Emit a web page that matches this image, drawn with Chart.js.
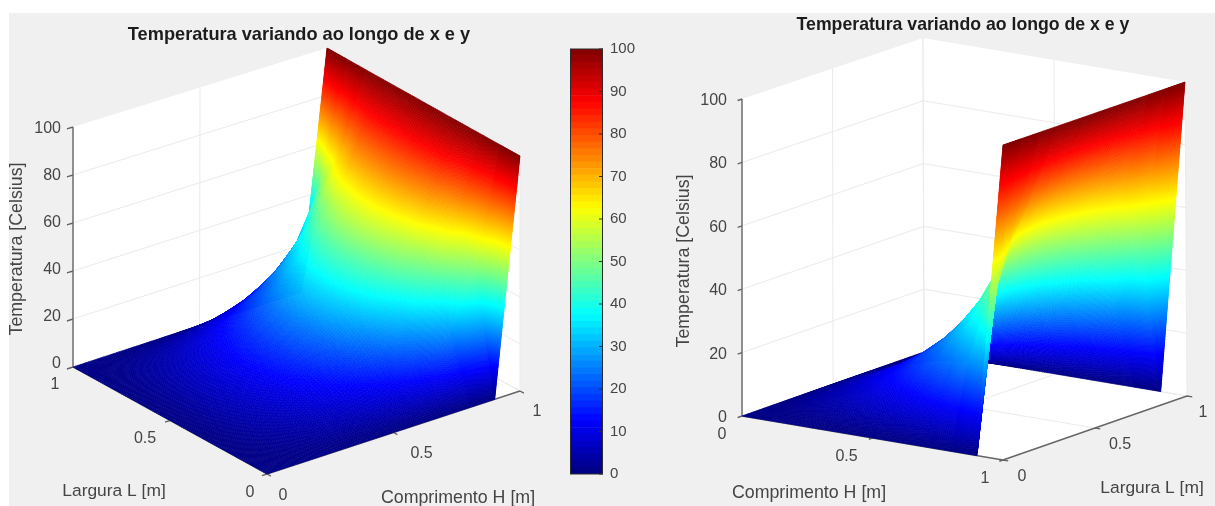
<!DOCTYPE html>
<html>
<head>
<meta charset="utf-8">
<title>Temperatura variando ao longo de x e y</title>
<script src="https://cdn.jsdelivr.net/npm/chart.js@4/dist/chart.umd.js"></script>
<style>
  html, body { margin: 0; padding: 0; background: #fff; overflow: hidden; width: 1215px; height: 506px; }
  #panel { position: absolute; left: 9px; top: 13px; width: 1206px; height: 493px; background: #f0f0f0; }
  canvas { position: absolute; display: block; filter: blur(0.6px); }
</style>
</head>
<body>
<div id="panel"></div>
<canvas id="leftChart" width="598" height="506" style="left:0;top:0"></canvas>
<canvas id="rightChart" width="606" height="506" style="left:660px;top:0"></canvas>
<canvas id="colorbar" width="90" height="457" style="left:570px;top:33px"></canvas>
<script>
const titleText = "Temperatura variando ao longo de x e y";
const zLabel = "Temperatura [Celsius]";
const hLabel = "Comprimento H [m]";
const lLabel = "Largura L [m]";

const hValues = [0, 0.1, 0.2, 0.3, 0.4, 0.5, 0.6, 0.7, 0.8, 0.9, 1];
const lValues = [0, 0.1, 0.2, 0.3, 0.4, 0.5, 0.6, 0.7, 0.8, 0.9, 1];
const zTicks = [0, 20, 40, 60, 80, 100];
const planTicks = [0, 0.5, 1];

// one row per L value, columns follow hValues
const tempL00 = [0, 0, 0, 0, 0, 0, 0, 0, 0, 0, 100];
const tempL01 = [0, 1.09, 2.30, 3.75, 5.62, 8.16, 11.80, 17.45, 27.39, 49.90, 100];
const tempL02 = [0, 2.08, 4.37, 7.11, 10.60, 15.27, 21.78, 31.21, 45.63, 67.73, 100];
const tempL03 = [0, 2.85, 5.99, 9.72, 14.45, 20.63, 28.95, 40.27, 55.67, 76.94, 100];
const tempL04 = [0, 3.34, 7.02, 11.38, 16.84, 23.90, 33.16, 45.22, 60.59, 79.23, 100];
const tempL05 = [0, 3.51, 7.37, 11.94, 17.65, 25.00, 34.54, 46.79, 62.07, 80.17, 100];
const tempL06 = [0, 3.34, 7.02, 11.38, 16.84, 23.90, 33.16, 45.22, 60.59, 79.23, 100];
const tempL07 = [0, 2.85, 5.99, 9.72, 14.45, 20.63, 28.95, 40.27, 55.67, 76.94, 100];
const tempL08 = [0, 2.08, 4.37, 7.11, 10.60, 15.27, 21.78, 31.21, 45.63, 67.73, 100];
const tempL09 = [0, 1.09, 2.30, 3.75, 5.62, 8.16, 11.80, 17.45, 27.39, 49.90, 100];
const tempL10 = [0, 0, 0, 0, 0, 0, 0, 0, 0, 0, 100];
const temperature = [tempL00, tempL01, tempL02, tempL03, tempL04, tempL05, tempL06, tempL07, tempL08, tempL09, tempL10];

const FONT = '"Liberation Sans", Arial, sans-serif';
const TEXT = "#454545";

// matlab jet
function jet(t) {
  const v = Math.min(0.9922, Math.max(0.0078, t / 100));
  const c = d => Math.round(255 * Math.min(1, Math.max(0, 1.5 - Math.abs(4 * v - d))));
  return `rgb(${c(3)},${c(2)},${c(1)})`;
}

// box corners on the page, floor and top, keyed by h and l
const leftView = {
  id: "leftChart", left: 0, width: 598, top: 46,
  titleSize: 18.2, titlePad: { top: 24, bottom: 0.16 },
  c00: [[267, 474], [267, 236]], c10: [[520, 391], [520, 156]],
  c01: [[73, 367], [73, 127]], c11: [[326, 284], [327, 48]],
  outline: [[0, 1, 100], [1, 1, 100], [1, 0, 100], [1, 0, 0], [0, 0, 0], [0, 1, 0]],
  backH: 1,
  zAxis: [0, 1], zTickDir: [-0.02, 0], hTickDir: -0.02, lTickH: 0, lTickDir: -0.02,
  zLabel: { x: 61, dyBottom: -5, dyTop: 0 },
  hAxisL: 0, lAxisH: 0,
  hLabels: [[16, 20], [28, 20], [17, 19]],
  lLabels: [[-17, 17], [-25, 17], [-18, 16]],
  hTitle: [458, 497], lTitle: [114, 490], zTitle: [17, 249]
};
const rightView = {
  id: "rightChart", left: 660, width: 606, top: 36,
  titleSize: 17.7, titlePad: { top: 14, bottom: 0.76 },
  c00: [[742, 416], [742, 99]], c10: [[1003, 460], [1003, 145]],
  c01: [[924, 352], [923, 38]], c11: [[1187, 396], [1185, 82]],
  outline: [[0, 0, 100], [0, 1, 100], [1, 1, 100], [1, 1, 0], [1, 0, 0], [0, 0, 0]],
  backH: 0,
  zAxis: [0, 0], zTickDir: [0, -0.02], hTickDir: -0.02, lTickH: 1, lTickDir: 0.02,
  zLabel: { x: 727, dyBottom: 0, dyTop: 0 },
  hAxisL: 0, lAxisH: 1,
  hLabels: [[-20, 17], [-26, 17], [-18, 17]],
  lLabels: [[19, 15], [25, 15], [16, 15]],
  hTitle: [809, 492], lTitle: [1152, 487], zTitle: [684, 261]
};

function project(view, h, l, t) {
  const mix = i => {
    const a = view.c00[i], b = view.c10[i], c = view.c01[i], d = view.c11[i];
    return [0, 1].map(k => a[k] * (1 - h) * (1 - l) + b[k] * h * (1 - l) + c[k] * (1 - h) * l + d[k] * h * l);
  };
  const f = mix(0), u = mix(1), w = t / 100;
  return { x: f[0] + (u[0] - f[0]) * w, y: f[1] + (u[1] - f[1]) * w };
}

const GAP = { x: NaN, y: NaN };

function segments(view, list) {
  const out = [];
  list.forEach(s => {
    out.push(project(view, s[0], s[1], s[2]), project(view, s[3], s[4], s[5]), GAP);
  });
  return out;
}

function gridSegments(view) {
  const back = view.backH, list = [];
  planTicks.forEach(v => {
    list.push([v, 0, 0, v, 1, 0]);
    list.push([0, v, 0, 1, v, 0]);
    list.push([v, 1, 0, v, 1, 100]);
    list.push([back, v, 0, back, v, 100]);
  });
  zTicks.slice(0, -1).forEach(z => {
    list.push([0, 1, z, 1, 1, z]);
    list.push([back, 0, z, back, 1, z]);
  });
  return segments(view, list);
}

function axisSegments(view) {
  const [zh, zl] = view.zAxis, list = [[zh, zl, 0, zh, zl, 100]];
  list.push([0, view.hAxisL, 0, 1, view.hAxisL, 0]);
  list.push([view.lAxisH, 0, 0, view.lAxisH, 1, 0]);
  zTicks.forEach(z => list.push([zh, zl, z, zh + view.zTickDir[0] * 1.2, zl + view.zTickDir[1] * 1.2, z]));
  planTicks.forEach(v => {
    list.push([v, view.hAxisL, 0, v, view.hAxisL + view.hTickDir, 0]);
    list.push([view.lAxisH, v, 0, view.lAxisH + view.lTickDir, v, 0]);
  });
  return segments(view, list);
}

function gridVertices(view) {
  const pts = [];
  lValues.forEach((l, i) => hValues.forEach((h, j) => pts.push(project(view, h, l, temperature[i][j]))));
  return pts;
}

// shaded faces between the dataset's points, far cells first
const surfacePlugin = {
  id: "surface",
  afterDatasetsDraw(chart, args, opts) {
    const pts = chart.getDatasetMeta(0).data;
    const ctx = chart.ctx, nh = hValues.length, nl = lValues.length;
    ctx.save();
    ctx.lineWidth = 0.6;
    ctx.lineJoin = "round";
    const hOrder = [...Array(nh - 1).keys()];
    if (opts.backH === 1) hOrder.reverse();
    for (let i = nl - 2; i >= 0; i--) {
      for (const j of hOrder) {
        const p00 = pts[i * nh + j], p10 = pts[i * nh + j + 1];
        const p01 = pts[(i + 1) * nh + j], p11 = pts[(i + 1) * nh + j + 1];
        const t00 = temperature[i][j], t10 = temperature[i][j + 1];
        const t01 = temperature[i + 1][j], t11 = temperature[i + 1][j + 1];
        const stepsH = Math.max(10, Math.ceil(Math.max(Math.abs(t10 - t00), Math.abs(t11 - t01)) / 0.8));
        const stepsL = Math.max(10, Math.ceil(Math.max(Math.abs(t01 - t00), Math.abs(t11 - t10)) / 0.8));
        const at = (a, b) => {
          const x = (1 - a) * (1 - b) * p00.x + a * (1 - b) * p10.x + (1 - a) * b * p01.x + a * b * p11.x;
          const y = (1 - a) * (1 - b) * p00.y + a * (1 - b) * p10.y + (1 - a) * b * p01.y + a * b * p11.y;
          return [x, y];
        };
        for (let q = stepsL - 1; q >= 0; q--) {
          for (let r0 = 0; r0 < stepsH; r0++) {
            const r = opts.backH === 1 ? stepsH - 1 - r0 : r0;
            const a0 = r / stepsH, a1 = (r + 1) / stepsH, b0 = q / stepsL, b1 = (q + 1) / stepsL;
            const am = (a0 + a1) / 2, bm = (b0 + b1) / 2;
            const t = (1 - am) * (1 - bm) * t00 + am * (1 - bm) * t10 + (1 - am) * bm * t01 + am * bm * t11;
            const col = jet(t);
            ctx.fillStyle = col;
            ctx.strokeStyle = col;
            ctx.beginPath();
            ctx.moveTo(...at(a0, b0));
            ctx.lineTo(...at(a1, b0));
            ctx.lineTo(...at(a1, b1));
            ctx.lineTo(...at(a0, b1));
            ctx.closePath();
            ctx.fill();
            ctx.stroke();
          }
        }
      }
    }
    ctx.restore();
  }
};

// tick labels and axis titles placed through the chart's scales
const axisTextPlugin = {
  id: "axisText",
  afterDraw(chart, args, opts) {
    const view = opts.view, ctx = chart.ctx;
    const sx = chart.scales.x, sy = chart.scales.y;
    const put = (text, x, y, size, align, rot) => {
      ctx.save();
      ctx.translate(sx.getPixelForValue(x), sy.getPixelForValue(y));
      if (rot) ctx.rotate(rot);
      ctx.font = `${size}px ${FONT}`;
      ctx.fillStyle = TEXT;
      ctx.textAlign = align;
      ctx.textBaseline = "middle";
      ctx.fillText(text, 0, rot ? 0 : 1.5);
      ctx.restore();
    };
    const [zh, zl] = view.zAxis;
    zTicks.forEach(z => {
      const p = project(view, zh, zl, z);
      const dy = view.zLabel.dyBottom + (view.zLabel.dyTop - view.zLabel.dyBottom) * z / 100;
      put(String(z), view.zLabel.x, p.y + dy, 16, "right");
    });
    planTicks.forEach((v, i) => {
      const ph = project(view, v, view.hAxisL, 0);
      put(String(v), ph.x + view.hLabels[i][0], ph.y + view.hLabels[i][1], 16, "center");
      const pl = project(view, view.lAxisH, v, 0);
      put(String(v), pl.x + view.lLabels[i][0], pl.y + view.lLabels[i][1], 16, "center");
    });
    put(hLabel, view.hTitle[0], view.hTitle[1], 17.8, "center");
    put(lLabel, view.lTitle[0], view.lTitle[1], 17.4, "center");
    put(zLabel, view.zTitle[0], view.zTitle[1], 17.8, "center", -Math.PI / 2);
  }
};

function buildSurface(view) {
  const hidden = { pointRadius: 0, pointHoverRadius: 0 };
  new Chart(document.getElementById(view.id), {
    type: "line",
    data: {
      datasets: [
        { label: "Temperatura", data: gridVertices(view), showLine: false, order: 0, ...hidden },
        { label: "axes", data: axisSegments(view), borderColor: "#666666", borderWidth: 1.4, spanGaps: false, order: 1, ...hidden },
        { label: "grid", data: gridSegments(view), borderColor: "#ebebeb", borderWidth: 1, spanGaps: false, order: 2, ...hidden },
        {
          label: "box",
          data: view.outline.map(c => project(view, c[0], c[1], c[2])),
          borderColor: "#ffffff", borderWidth: 0, backgroundColor: "#ffffff", fill: "shape", order: 3, ...hidden
        }
      ]
    },
    plugins: [surfacePlugin, axisTextPlugin],
    options: {
      responsive: false,
      animation: false,
      events: [],
      parsing: { xAxisKey: "x", yAxisKey: "y" },
      layout: { padding: 0 },
      scales: {
        x: { type: "linear", display: false, min: view.left, max: view.left + view.width },
        y: { type: "linear", display: false, reverse: true, min: view.top, max: 506 }
      },
      plugins: {
        legend: { display: false },
        tooltip: { enabled: false },
        title: {
          display: true, text: titleText, color: "#1c1c1c",
          font: { family: FONT, size: view.titleSize, weight: "bold", lineHeight: 1.2 },
          padding: view.titlePad
        },
        surface: { backH: view.backH },
        axisText: { view: view }
      }
    }
  });
}

buildSurface(leftView);
buildSurface(rightView);

// colorbar: 64 overlapping floating levels on a real value axis
const colorbarLevels = 64;
const barSets = [];
for (let i = 0; i < colorbarLevels; i++) {
  const lo = i * 100 / colorbarLevels, hi = (i + 1) * 100 / colorbarLevels;
  barSets.push({ data: [[lo, hi]], backgroundColor: jet((lo + hi) / 2), borderWidth: 0, barPercentage: 1, categoryPercentage: 1 });
}

const colorbarFrame = {
  id: "colorbarFrame",
  afterDatasetsDraw(chart) {
    const { ctx, chartArea: a, scales: { y } } = chart;
    ctx.save();
    ctx.strokeStyle = "#2b2b2b";
    ctx.lineWidth = 1;
    ctx.strokeRect(a.left + 0.5, a.top, a.width - 1, a.height);
    y.ticks.forEach(t => {
      const py = y.getPixelForValue(t.value);
      ctx.beginPath();
      ctx.moveTo(a.right - 4, py);
      ctx.lineTo(a.right, py);
      ctx.stroke();
    });
    ctx.restore();
  }
};

new Chart(document.getElementById("colorbar"), {
  type: "bar",
  data: { labels: [""], datasets: barSets },
  plugins: [colorbarFrame],
  options: {
    responsive: false,
    animation: false,
    events: [],
    layout: { padding: { top: 8, bottom: 8, left: 0, right: 0 } },
    scales: {
      x: { display: false, stacked: true },
      y: {
        position: "right", min: 0, max: 100,
        afterFit(s) { s.width = 57; },
        grid: { display: false, drawTicks: false },
        border: { display: false },
        ticks: { stepSize: 10, padding: 7, color: TEXT, font: { family: FONT, size: 15 } }
      }
    },
    plugins: { legend: { display: false }, tooltip: { enabled: false } }
  }
});
</script>
</body>
</html>
